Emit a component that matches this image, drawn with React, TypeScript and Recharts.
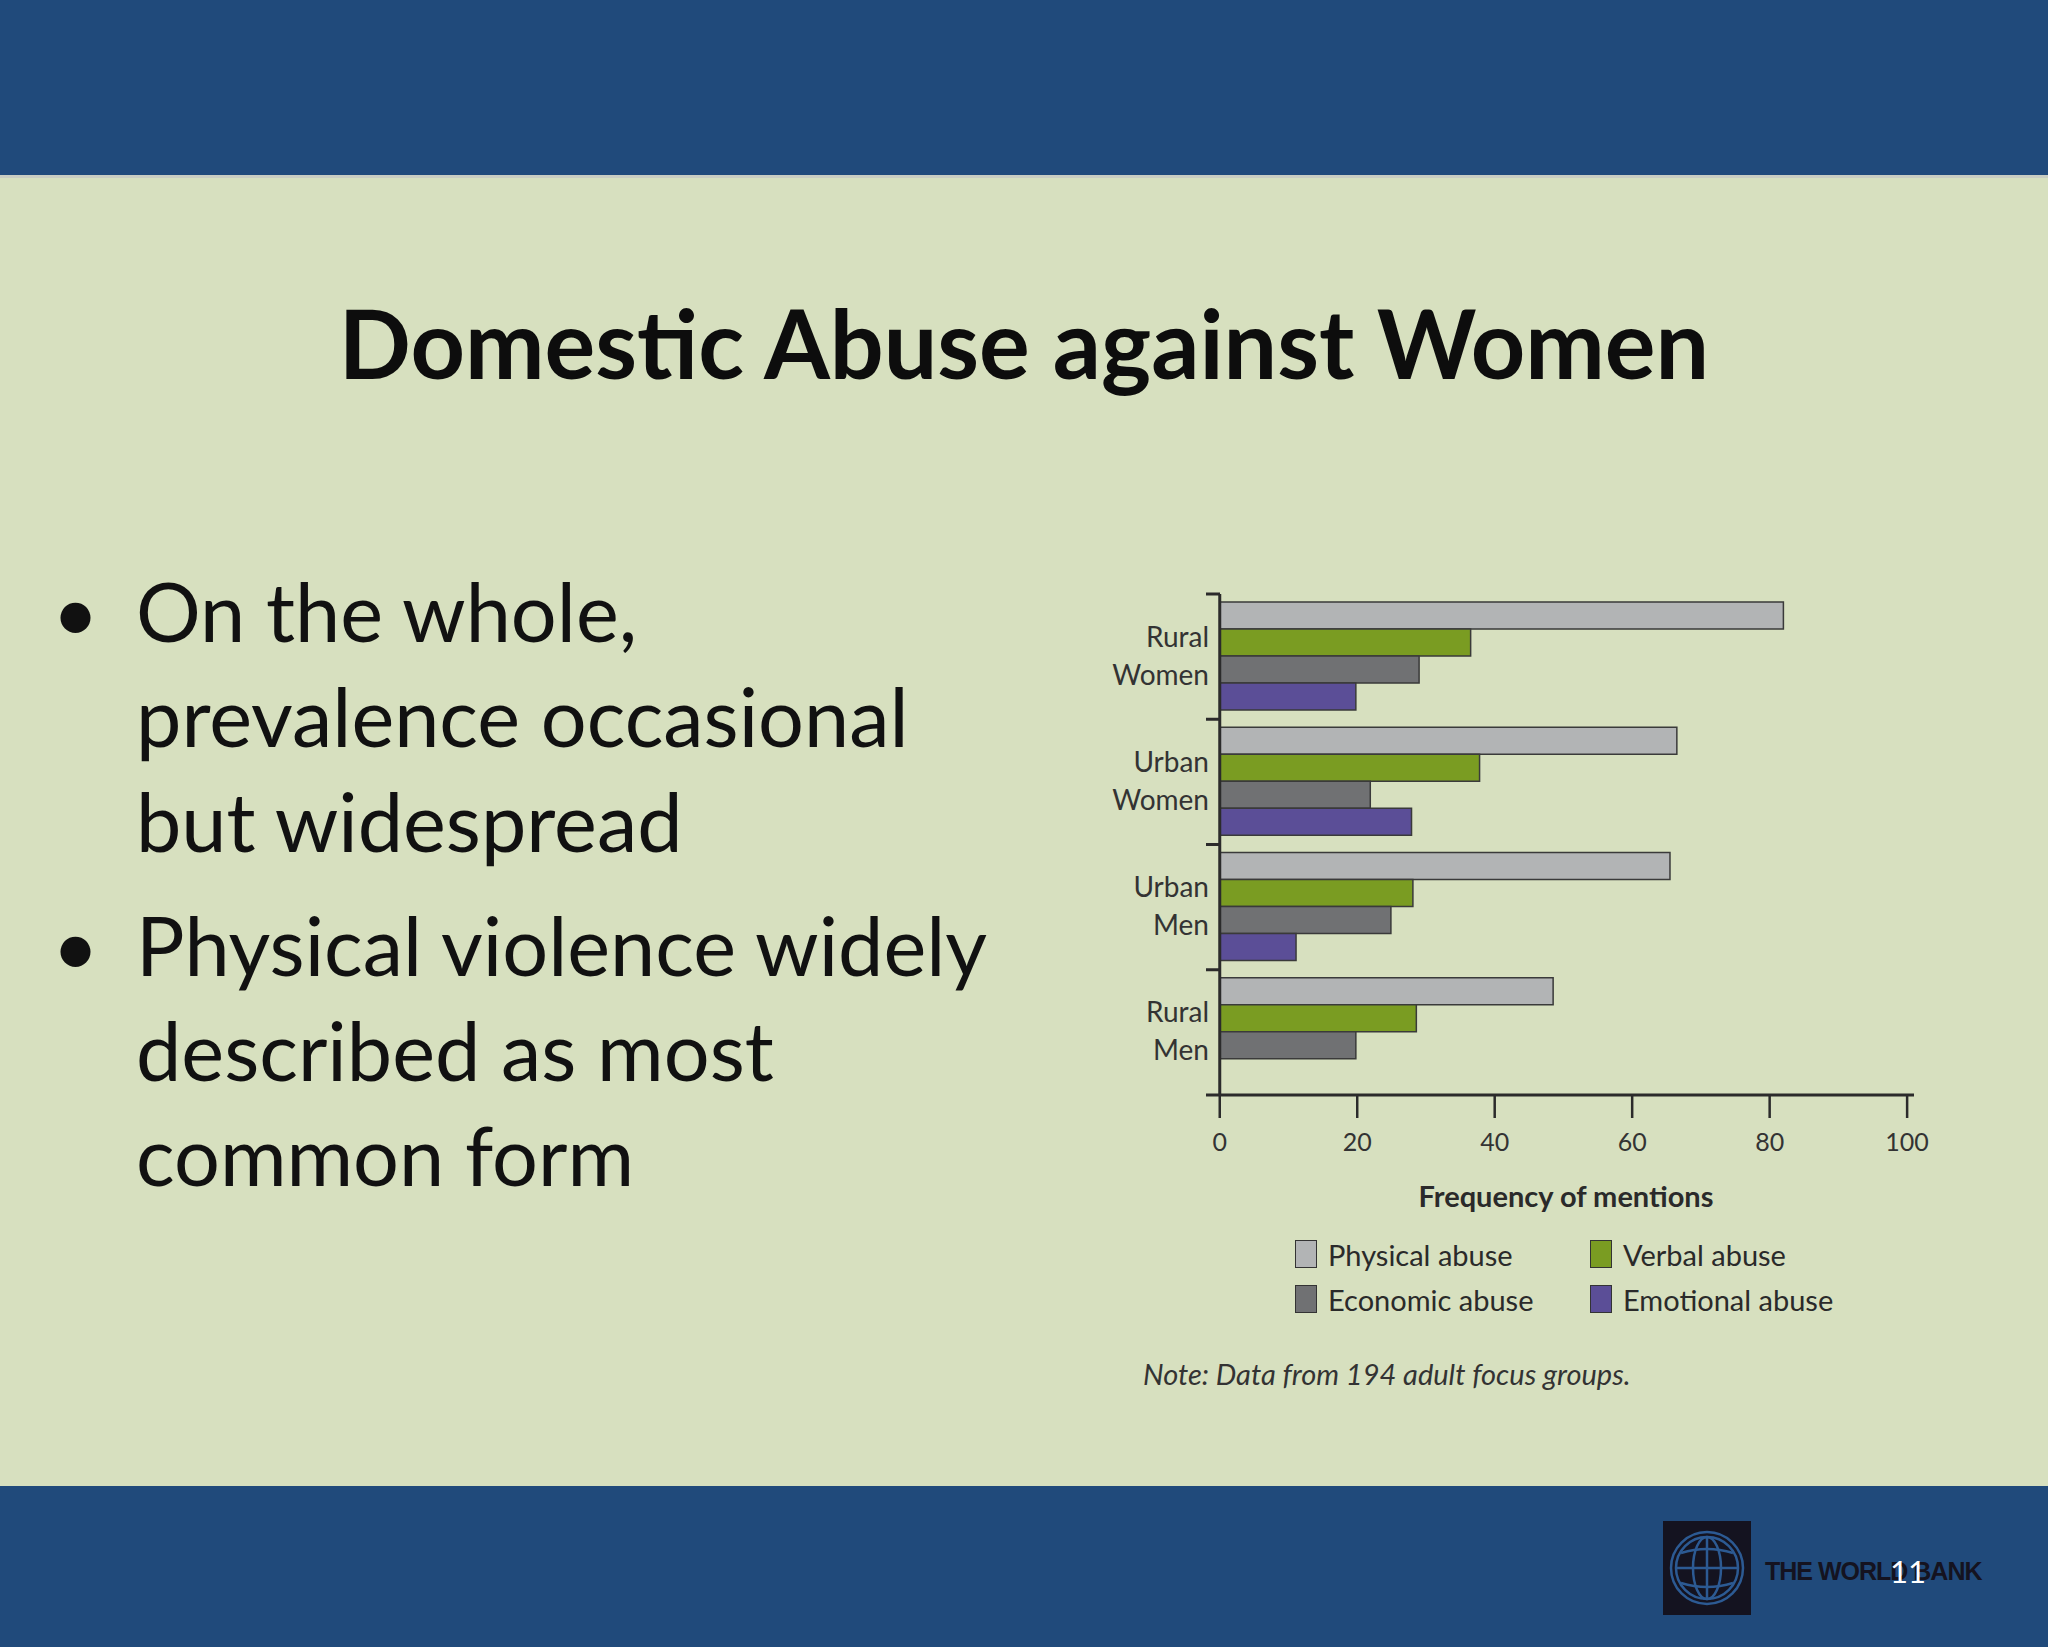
import { BarChart, Bar, XAxis, YAxis, ReferenceLine } from "recharts";

const groups = ["Rural Women", "Urban Women", "Urban Men", "Rural Men"];
const physical = [82, 66.5, 65.5, 48.5];
const verbal = [36.5, 37.8, 28.1, 28.6];
const economic = [29, 21.9, 24.9, 19.8];
const emotional: (number | null)[] = [19.8, 27.9, 11.1, null];
const xTicks = [0, 20, 40, 60, 80, 100];

const series = [
  { key: "physical", name: "Physical abuse", color: "#b2b4b5" },
  { key: "verbal", name: "Verbal abuse", color: "#7a9c22" },
  { key: "economic", name: "Economic abuse", color: "#707173" },
  { key: "emotional", name: "Emotional abuse", color: "#5b4e97" }
];

const data = groups.map((g, i) => ({
  group: g,
  physical: physical[i],
  verbal: verbal[i],
  economic: economic[i],
  emotional: emotional[i]
}));

const CHART_W = 934;
const CHART_H = 620;
const M_TOP = 34;
const X_AXIS_H = 85;
const Y_AXIS_W = 206;
const PLOT_H = CHART_H - M_TOP - X_AXIS_H;
const BAND = PLOT_H / groups.length;
const INK = "#2b2b2b";
const chartFont = "Lato, 'Noto Sans', sans-serif";

function GroupTick(props: any) {
  const { x, y, payload } = props;
  const [a, b] = String(payload.value).split(" ");
  return (
    <g>
      <line x1={x} x2={x + 14} y1={y - BAND / 2} y2={y - BAND / 2} stroke={INK} strokeWidth={3} />
      <text
        x={x + 3}
        y={y}
        textAnchor="end"
        fill="#333"
        fontSize={28}
        style={{ fontFamily: "'Liberation Sans Narrow', Lato, sans-serif" }}
      >
        <tspan x={x + 3} dy={-10}>{a}</tspan>
        <tspan x={x + 3} dy={38}>{b}</tspan>
      </text>
    </g>
  );
}

function Legend() {
  return (
    <div
      style={{
        position: "absolute",
        left: 1295,
        top: 1240,
        display: "grid",
        gridTemplateColumns: "295px 260px",
        rowGap: 17,
        fontFamily: chartFont,
        fontSize: 29,
        color: "#2a2a2a"
      }}
    >
      {series.map((s) => (
        <div key={s.key} style={{ display: "flex", alignItems: "center", height: 28 }}>
          <div
            style={{
              width: 20,
              height: 26,
              background: s.color,
              border: "1.5px solid #333",
              marginRight: 11
            }}
          />
          <span>{s.name}</span>
        </div>
      ))}
    </div>
  );
}

function Logo() {
  return (
    <svg width={88} height={94} style={{ position: "absolute", left: 1663, top: 1521 }}>
      <rect x={0} y={0} width={88} height={94} fill="#141320" />
      <g fill="none" stroke="#2c5a93" strokeWidth={2.5}>
        <circle cx={44} cy={47} r={36} />
        <circle cx={44} cy={47} r={31} />
        <ellipse cx={44} cy={47} rx={14} ry={31} />
        <line x1={44} y1={16} x2={44} y2={78} />
        <line x1={13} y1={47} x2={75} y2={47} />
        <path d="M 18 32 Q 44 24 70 32" />
        <path d="M 18 62 Q 44 70 70 62" />
      </g>
    </svg>
  );
}

export default function App() {
  return (
    <div
      style={{
        position: "absolute",
        left: 0,
        top: 0,
        width: 2048,
        height: 1647,
        background: "#d7e0bf",
        overflow: "hidden",
        fontFamily: "Lato, 'Open Sans', sans-serif"
      }}
    >
      <div style={{ position: "absolute", left: 0, top: 0, width: 2048, height: 175, background: "#204a7b" }} />
      <div style={{ position: "absolute", left: 0, top: 175, width: 2048, height: 3, background: "#c9cdc2" }} />
      <div style={{ position: "absolute", left: 0, top: 1486, width: 2048, height: 161, background: "#204a7b" }} />

      <div
        style={{
          position: "absolute",
          left: 0,
          top: 290,
          width: 2048,
          height: 104,
          lineHeight: "104px",
          textAlign: "center",
          fontSize: 95,
          fontWeight: 700,
          color: "#0d0d0d"
        }}
      >
        Domestic Abuse against Women
      </div>

      <div style={{ position: "absolute", left: 52, top: 558, fontSize: 81, color: "#111", lineHeight: "105px" }}>
        <div style={{ display: "flex" }}>
          <span style={{ width: 84 }}>•</span>
          <span>
            On the whole,
            <br />
            prevalence occasional
            <br />
            but widespread
          </span>
        </div>
        <div style={{ display: "flex", marginTop: 19 }}>
          <span style={{ width: 84 }}>•</span>
          <span>
            Physical violence widely
            <br />
            described as most
            <br />
            common form
          </span>
        </div>
      </div>

      <div style={{ position: "absolute", left: 1000, top: 560 }}>
        <BarChart
          width={CHART_W}
          height={CHART_H}
          data={data}
          layout="vertical"
          margin={{ top: M_TOP, right: 20, bottom: 0, left: 0 }}
          barGap={0}
          barCategoryGap="6.4%"
        >
          <XAxis
            type="number"
            domain={[-2, 101]}
            ticks={xTicks}
            height={X_AXIS_H}
            axisLine={{ stroke: INK, strokeWidth: 3 }}
            tickLine={{ stroke: INK, strokeWidth: 2.5 }}
            tickSize={23}
            tickMargin={15}
            tick={{ fill: "#333", fontSize: 25, fontFamily: chartFont }}
            allowDataOverflow
          />
          <YAxis
            type="category"
            dataKey="group"
            width={Y_AXIS_W}
            axisLine={false}
            tickLine={false}
            tickSize={0}
            tickMargin={0}
            tick={<GroupTick />}
          />
          <ReferenceLine x={0} stroke={INK} strokeWidth={3} />
          {series.map((s) => (
            <Bar
              key={s.key}
              dataKey={s.key}
              name={s.name}
              fill={s.color}
              stroke="#3a3a3a"
              strokeWidth={1.5}
              isAnimationActive={false}
            />
          ))}
        </BarChart>
      </div>

      <div
        style={{
          position: "absolute",
          left: 1366,
          top: 1178,
          width: 400,
          textAlign: "center",
          fontFamily: chartFont,
          fontSize: 29,
          fontWeight: 700,
          color: "#2a2a2a"
        }}
      >
        Frequency of mentions
      </div>

      <Legend />

      <div
        style={{
          position: "absolute",
          left: 1143,
          top: 1356,
          fontFamily: chartFont,
          fontSize: 29,
          fontStyle: "italic",
          color: "#333"
        }}
      >
        Note: Data from 194 adult focus groups.
      </div>

      <Logo />
      <div
        style={{
          position: "absolute",
          left: 1765,
          top: 1557,
          fontFamily: "'Liberation Sans', Arial, sans-serif",
          fontWeight: 700,
          fontSize: 25,
          color: "#141320",
          letterSpacing: -1
        }}
      >
        THE WORLD BANK
      </div>
      <div
        style={{
          position: "absolute",
          left: 1890,
          top: 1552,
          fontFamily: "Lato, sans-serif",
          fontSize: 31,
          color: "#ffffff"
        }}
      >
        11
      </div>
    </div>
  );
}
